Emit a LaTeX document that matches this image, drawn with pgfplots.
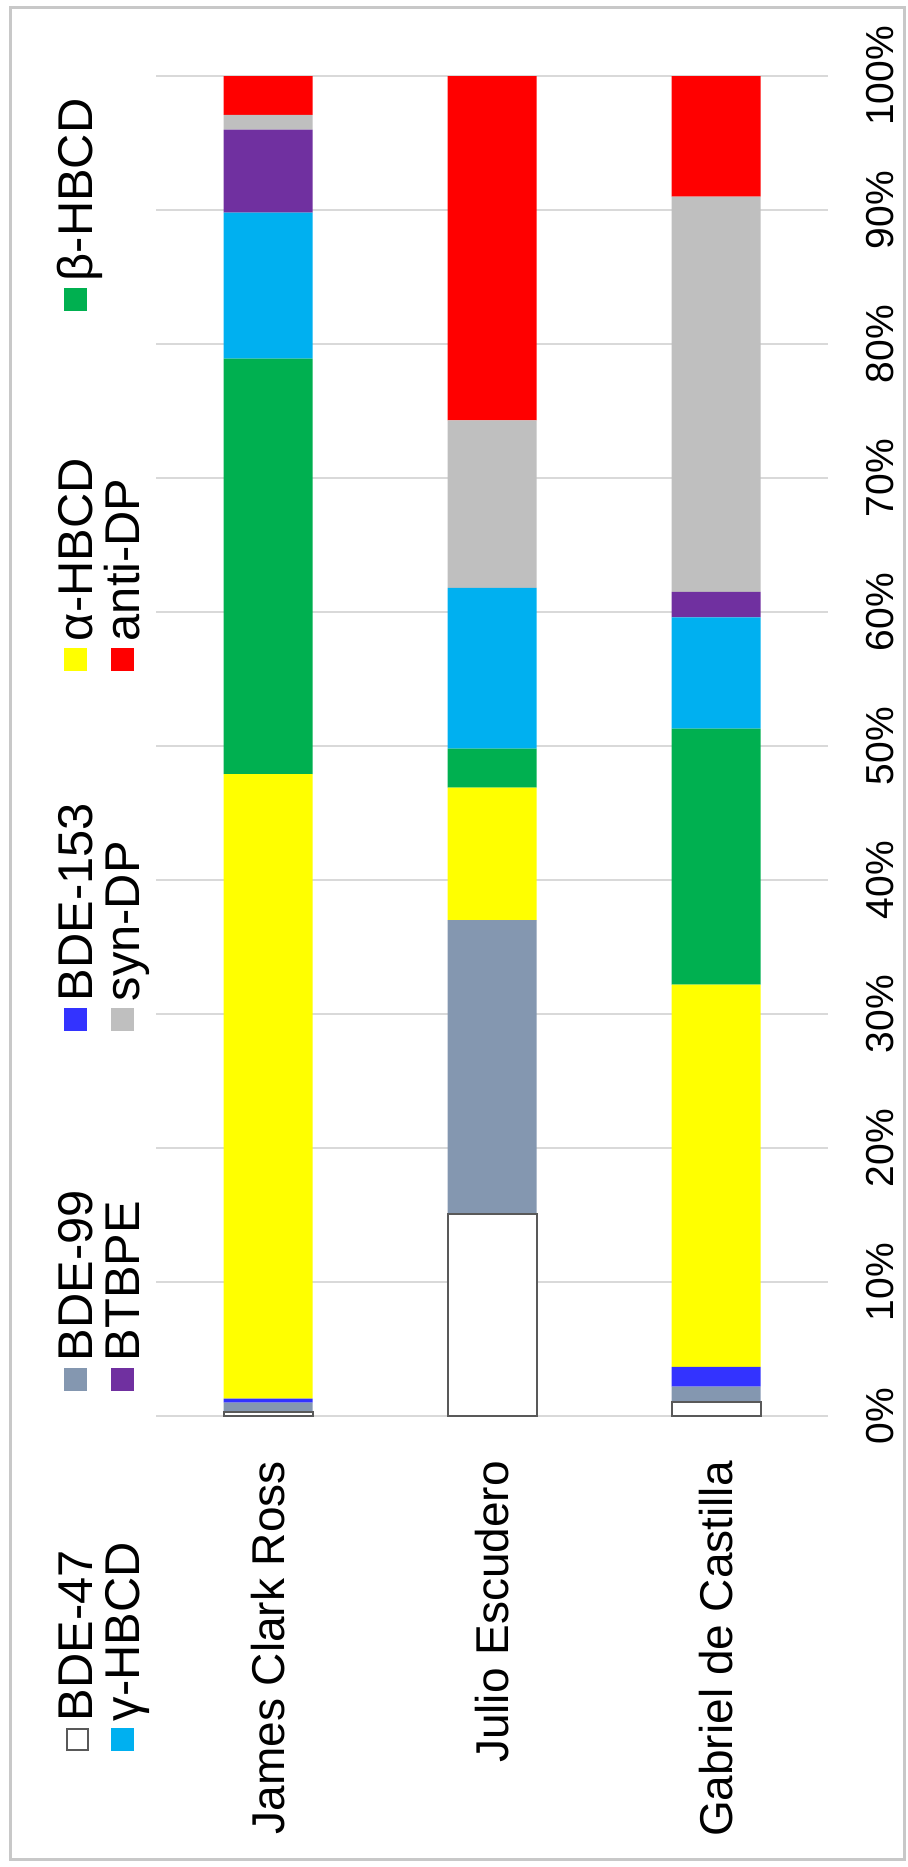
\documentclass[border=0pt]{standalone}
\usepackage{pgfplots}
\pgfplotsset{compat=1.18}
\usepackage{fontspec}
\setmainfont{Liberation Sans}

\definecolor{frameclr}{HTML}{C8C8C8}
\definecolor{gridclr}{HTML}{D9D9D9}
\definecolor{edgeclr}{HTML}{595959}
\definecolor{bdeb}{HTML}{8497B0}
\definecolor{bdec}{HTML}{3333FF}
\definecolor{hbcda}{HTML}{FFFF00}
\definecolor{hbcdb}{HTML}{00B050}
\definecolor{hbcdg}{HTML}{00B0F0}
\definecolor{btbpe}{HTML}{7030A0}
\definecolor{syndp}{HTML}{BFBFBF}
\definecolor{antidp}{HTML}{FF0000}

% legend key: filled square sitting on the baseline
\newcommand{\key}[1]{\textcolor{#1}{\rule[1.5pt]{5.75pt}{5.75pt}}\hspace{1.75pt}}
\newcommand{\openkey}{{\setlength{\fboxsep}{0pt}\setlength{\fboxrule}{0.5pt}%
  \raisebox{1.5pt}{\fcolorbox{edgeclr}{white}{\rule{0pt}{4.75pt}\rule{4.75pt}{0pt}}}}\hspace{1.75pt}}

\begin{document}
\begin{tikzpicture}
% page size and outer frame
\path (0,0) rectangle (227pt,466.75pt);
\draw[frameclr, line width=0.75pt] (2.5pt,1.75pt) rectangle (226pt,464.75pt);

\begin{axis}[
    at={(39pt,112.75pt)}, anchor=south west,
    scale only axis, width=168pt, height=335pt,
    ybar stacked, bar width=22.25pt,
    xmin=-0.5, xmax=2.5, ymin=0, ymax=100,
    xtick={0,1,2},
    xticklabels={James Clark Ross, Julio Escudero, Gabriel de Castilla},
    ytick={0,10,20,30,40,50,60,70,80,90,100},
    yticklabels={0\%,10\%,20\%,30\%,40\%,50\%,60\%,70\%,80\%,90\%,100\%},
    yticklabel pos=right,
    axis line style={draw=none},
    major tick length=0pt,
    ymajorgrids,
    grid style={draw=gridclr, line width=0.5pt},
    xticklabel style={font=\fontsize{11.5}{13}\selectfont, yshift=-7.75pt, rotate=90, anchor=east},
    yticklabel style={font=\fontsize{9.75}{11}\selectfont, xshift=6pt, rotate=90, anchor=north},
]
% order: James Clark Ross, Julio Escudero, Gabriel de Castilla (percent)
\addplot[fill=white, draw=edgeclr, line width=0.5pt] coordinates {(0,0.3) (1,15.1) (2,1.05)};
\addplot[fill=bdeb, draw=none] coordinates {(0,0.7) (1,21.9) (2,1.15)};
\addplot[fill=bdec, draw=none] coordinates {(0,0.3) (1,0) (2,1.46)};
\addplot[fill=hbcda, draw=none] coordinates {(0,46.6) (1,9.9) (2,28.54)};
\addplot[fill=hbcdb, draw=none] coordinates {(0,31.0) (1,2.9) (2,19.1)};
\addplot[fill=hbcdg, draw=none] coordinates {(0,10.9) (1,12.0) (2,8.3)};
\addplot[fill=btbpe, draw=none] coordinates {(0,6.2) (1,0) (2,1.9)};
\addplot[fill=syndp, draw=none] coordinates {(0,1.1) (1,12.5) (2,29.5)};
\addplot[fill=antidp, draw=none] coordinates {(0,2.9) (1,25.7) (2,9.0)};
\end{axis}

% legend, turned with the rest of the chart
\begin{scope}[every node/.style={rotate=90, anchor=base west, inner sep=0pt,
    font=\fontsize{12.2}{14}\selectfont}]
\node at (23.25pt,28.75pt)  {\openkey BDE-47};
\node at (23.25pt,118.75pt) {\key{bdeb}BDE-99};
\node at (23.25pt,208.75pt) {\key{bdec}BDE-153};
\node at (23.25pt,298.75pt) {\key{hbcda}α-HBCD};
\node at (23.25pt,388.75pt) {\key{hbcdb}β-HBCD};
\node at (35pt,28.75pt)  {\key{hbcdg}γ-HBCD};
\node at (35pt,118.75pt) {\key{btbpe}BTBPE};
\node at (35pt,208.75pt) {\key{syndp}syn-DP};
\node at (35pt,298.75pt) {\key{antidp}anti-DP};
\end{scope}
\end{tikzpicture}
\end{document}
